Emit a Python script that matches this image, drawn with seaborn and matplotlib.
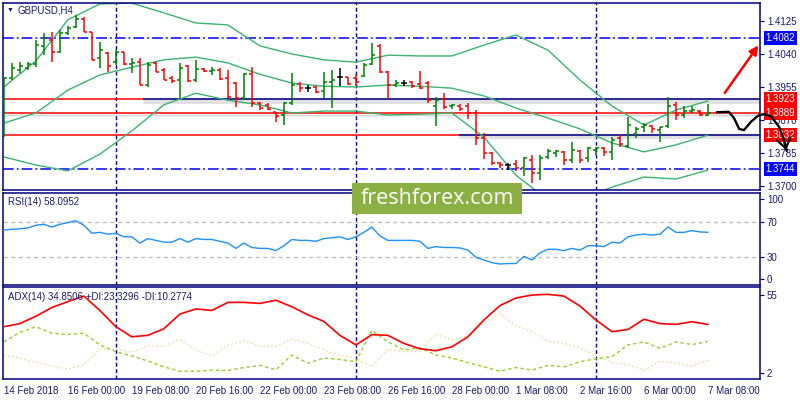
import numpy as np
import pandas as pd
import seaborn as sns
import matplotlib.pyplot as plt
from matplotlib.patches import Rectangle
from matplotlib.transforms import blended_transform_factory

sns.set_style('white')
plt.rcParams['font.family'] = ['Liberation Sans', 'DejaVu Sans']

NAVY = '#000080'
TXT = '#1b1b6e'

# GBPUSD H4, 14 Feb 2018 16:00 .. 7 Mar 2018 08:00 (89 bars)
opens = [1.3844, 1.3978, 1.3999, 1.4004, 1.4014, 1.4061, 1.4076, 1.4045, 1.4094, 1.4110,
         1.4130, 1.4097, 1.4030, 1.4043, 1.4019, 1.4045, 1.4014, 1.4019, 1.3960, 1.4017,
         1.3999, 1.3978, 1.3973, 1.4009, 1.3973, 1.4001, 1.3996, 1.3999, 1.3978, 1.3965,
         1.3927, 1.3988, 1.3914, 1.3909, 1.3891, 1.3883, 1.3914, 1.3963, 1.3952, 1.3955,
         1.3945, 1.3968, 1.3981, 1.3981, 1.3978, 1.3983, 1.4014, 1.4061, 1.3994, 1.3960,
         1.3965, 1.3968, 1.3963, 1.3965, 1.3906, 1.3924, 1.3906, 1.3906, 1.3906, 1.3888,
         1.3824, 1.3785, 1.3759, 1.3754, 1.3757, 1.3746, 1.3767, 1.3733, 1.3775, 1.3785,
         1.3788, 1.3767, 1.3790, 1.3772, 1.3793, 1.3798, 1.3788, 1.3824, 1.3803, 1.3834,
         1.3852, 1.3855, 1.3844, 1.3855, 1.3909, 1.3883, 1.3893, 1.3893, 1.3883]
highs = [1.3981, 1.4017, 1.4019, 1.4019, 1.4076, 1.4094, 1.4097, 1.4102, 1.4112, 1.4140,
         1.4135, 1.4097, 1.4071, 1.4045, 1.4050, 1.4045, 1.4030, 1.4030, 1.4019, 1.4019,
         1.4004, 1.3983, 1.4017, 1.4012, 1.4025, 1.4004, 1.4006, 1.4004, 1.3999, 1.3968,
         1.3991, 1.4006, 1.3916, 1.3914, 1.3891, 1.3916, 1.3991, 1.3968, 1.3960, 1.3957,
         1.3994, 1.3999, 1.4004, 1.3981, 1.3988, 1.4017, 1.4068, 1.4066, 1.3996, 1.3973,
         1.3973, 1.3970, 1.3996, 1.3970, 1.3929, 1.3939, 1.3911, 1.3911, 1.3914, 1.3896,
         1.3836, 1.3788, 1.3762, 1.3759, 1.3767, 1.3775, 1.3780, 1.3780, 1.3795, 1.3793,
         1.3790, 1.3813, 1.3793, 1.3800, 1.3800, 1.3800, 1.3826, 1.3831, 1.3878, 1.3852,
         1.3862, 1.3857, 1.3852, 1.3929, 1.3916, 1.3906, 1.3906, 1.3896, 1.3911]
lows = [1.3826, 1.3973, 1.3991, 1.3999, 1.4006, 1.4037, 1.4019, 1.4043, 1.4089, 1.4107,
        1.4097, 1.4025, 1.4004, 1.3994, 1.4012, 1.4012, 1.3991, 1.3960, 1.3955, 1.3994,
        1.3973, 1.3965, 1.3927, 1.3968, 1.3968, 1.3994, 1.3986, 1.3973, 1.3927, 1.3903,
        1.3921, 1.3903, 1.3896, 1.3896, 1.3865, 1.3857, 1.3909, 1.3942, 1.3942, 1.3939,
        1.3927, 1.3901, 1.3957, 1.3960, 1.3957, 1.3981, 1.4012, 1.3991, 1.3924, 1.3955,
        1.3957, 1.3952, 1.3950, 1.3914, 1.3855, 1.3898, 1.3898, 1.3893, 1.3873, 1.3806,
        1.3770, 1.3754, 1.3746, 1.3741, 1.3739, 1.3726, 1.3708, 1.3715, 1.3770, 1.3775,
        1.3754, 1.3759, 1.3759, 1.3762, 1.3780, 1.3777, 1.3767, 1.3800, 1.3798, 1.3824,
        1.3839, 1.3836, 1.3813, 1.3849, 1.3870, 1.3875, 1.3888, 1.3880, 1.3880]
closes = [1.3978, 1.4004, 1.4009, 1.4014, 1.4063, 1.4081, 1.4045, 1.4094, 1.4107, 1.4130,
          1.4097, 1.4025, 1.4050, 1.4009, 1.4045, 1.4014, 1.4017, 1.3960, 1.4012, 1.3994,
          1.3973, 1.3970, 1.4004, 1.3970, 1.4001, 1.3996, 1.3999, 1.3976, 1.3929, 1.3927,
          1.3988, 1.3914, 1.3901, 1.3898, 1.3880, 1.3914, 1.3960, 1.3952, 1.3952, 1.3942,
          1.3968, 1.3973, 1.3981, 1.3963, 1.3968, 1.4012, 1.4037, 1.3994, 1.3960, 1.3965,
          1.3965, 1.3957, 1.3952, 1.3921, 1.3921, 1.3903, 1.3909, 1.3898, 1.3888, 1.3824,
          1.3785, 1.3759, 1.3754, 1.3754, 1.3746, 1.3772, 1.3733, 1.3772, 1.3790, 1.3790,
          1.3767, 1.3793, 1.3767, 1.3798, 1.3798, 1.3788, 1.3818, 1.3808, 1.3857, 1.3847,
          1.3857, 1.3847, 1.3852, 1.3906, 1.3883, 1.3893, 1.3896, 1.3883, 1.3889]

# Bollinger bands read every 4 bars
bb_index = list(range(0, 89, 4))
bb_upper = [1.3955, 1.4022, 1.4128, 1.4169, 1.4171, 1.4146, 1.4120, 1.4115, 1.4061, 1.4040, 1.4025, 1.4019,
            1.4037, 1.4035, 1.4035, 1.4063, 1.4089, 1.4050, 1.3973, 1.3906, 1.3857, 1.3896, 1.3919]
bb_mid = [1.3862, 1.3888, 1.3947, 1.3986, 1.4006, 1.4025, 1.4032, 1.4017, 1.3988, 1.3965, 1.3957, 1.3955,
          1.3960, 1.3957, 1.3952, 1.3932, 1.3901, 1.3875, 1.3847, 1.3811, 1.3788, 1.3806, 1.3831]
bb_lower = [1.3775, 1.3754, 1.3739, 1.3782, 1.3842, 1.3909, 1.3939, 1.3921, 1.3909, 1.3888, 1.3893, 1.3893,
            1.3883, 1.3885, 1.3888, 1.3826, 1.3728, 1.3664, 1.3664, 1.3697, 1.3723, 1.3718, 1.3741]

rsi = [60.7, 61.5, 62, 63, 66, 67, 64, 67, 69, 71, 66, 57, 58, 56, 57, 53, 53, 46, 51, 49,
       47, 47, 51, 47, 51, 50, 50, 48, 46, 40, 46, 41, 40, 40, 37.5, 43, 50, 49, 49, 48,
       51, 52, 53, 50, 53, 58, 64, 54, 49, 49, 49, 49, 48, 40, 42, 41, 41, 40.5, 38, 30,
       27, 24, 22.5, 23, 23, 31, 27, 35, 39, 39, 37.5, 40, 38, 43, 43, 42, 47, 46, 53, 55,
       56, 55, 56, 64, 58, 58, 60, 58.5, 58.1]

# ADX / DI read every 2 bars
adx_index = list(range(0, 89, 2))
adx = [33.4, 35.5, 40.5, 46.5, 50.5, 54.3, 44.5, 33.4, 26.5, 27.5, 32, 42, 45.5, 44.5, 50,
       50, 49.3, 51.5, 47, 41.5, 37, 27.5, 21, 28, 27.5, 22, 18.3, 17, 19.7, 26.5,
       38, 47.8, 53, 55, 55.5, 54.3, 47.5, 38, 30, 31.5, 38.5, 35.5, 35, 36.8, 34.9]
plus_di = [23, 29.5, 33.4, 29, 28, 29, 21, 16.3, 13.5, 10, 6, 3, 3, 3.8, 3.5,
           5.5, 7, 4, 14, 8.5, 12, 11, 9.5, 31, 23, 17.5, 19, 14.1, 12, 9,
           6, 3, 5.5, 3.8, 7, 6, 9.5, 11.5, 13, 21, 23, 18.6, 23, 21.2, 23.3]
minus_di = [14.1, 12, 9, 6.5, 4.5, 7.5, 18, 18, 16, 20.5, 20, 24.7, 17.5, 13.6, 20.5,
            24, 20, 20, 25, 22, 17.5, 14, 11.8, 6, 18, 16.3, 16.5, 28.4, 24.3, 27.2,
            36, 42.5, 34, 30, 23.5, 22, 19, 13.5, 9, 7.5, 3.5, 10, 8.5, 6.5, 10.3]

tick_bars = list(range(0, 89, 8))
tick_labels = ['14 Feb 2018', '16 Feb 00:00', '19 Feb 08:00', '20 Feb 16:00', '22 Feb 00:00',
               '23 Feb 08:00', '26 Feb 16:00', '28 Feb 00:00', '1 Mar 08:00', '2 Mar 16:00',
               '6 Mar 00:00', '7 Mar 08:00']
week_starts = [14, 44, 74]

red_levels = [1.3923, 1.3889, 1.3832]
blue_levels = [1.4082, 1.3744]
channel = [(1.3923, 17.4), (1.3832, 56.9)]   # level, first bar
price_ticks = [1.3700, 1.3785, 1.3870, 1.3955, 1.4040, 1.4125]

# hand-drawn scenario on the right (bar, price)
up_arrow = [(89.9, 1.3934), (94.5, 1.4068)]
path_bar = [89.1, 90.6, 91.25, 91.9, 92.5, 93.4, 94.25, 95.0, 95.9, 96.9, 97.5, 97.85]
path_price = [1.3890, 1.3891, 1.3875, 1.3847, 1.3844, 1.3866, 1.3881, 1.3885, 1.3879, 1.3852, 1.3818, 1.3790]

df = pd.DataFrame({'o': opens, 'h': highs, 'l': lows, 'c': closes})
df['bar'] = np.arange(len(df))
df['col'] = np.where(df.c > df.o, '#008000', np.where(df.c < df.o, '#ff0000', '#000000'))

fig = plt.figure(figsize=(8, 4), dpi=100)
W, H = 800, 400
def rect(top, bottom):
    return [3 / W, 1 - bottom / H, 757 / W, (bottom - top) / H]

ax = fig.add_axes(rect(3, 190))
ax_rsi = fig.add_axes(rect(193, 285))
ax_adx = fig.add_axes(rect(287, 379))

XL = (-0.1, 94.5)
for a in (ax, ax_rsi, ax_adx):
    a.set_xlim(*XL)
    for s in a.spines.values():
        s.set_color(NAVY)
        s.set_linewidth(1.1)
    a.yaxis.tick_right()
    a.tick_params(axis='y', colors=NAVY, labelcolor=TXT, labelsize=7, length=3, pad=2)
    a.tick_params(axis='x', colors=NAVY, labelcolor=TXT, labelsize=7, length=3, pad=2)
    for wb in week_starts:
        a.axvline(wb, color=NAVY, lw=1, ls=(0, (2.8, 1.8)), zorder=1)

# ---- main price panel ----
ax.set_ylim(1.36897, 1.41714)
ax.set_yticks(price_ticks)
ax.set_yticklabels([f'{p:.4f}' for p in price_ticks])
ax.set_xticks([])

for lv in blue_levels:
    ax.axhline(lv, color='#0000ff', lw=1.1, ls=(0, (7, 2, 1.2, 2)), zorder=1)
ax.axhline(red_levels[1] - 0.0005, color='#d4d4d4', lw=1, zorder=0.9)
for lv in red_levels:
    ax.axhline(lv, color='#ff0000', lw=1.1, zorder=1)
for lv, b0 in channel:
    ax.hlines(lv - 0.0004, b0, XL[1], color='#9a9a9a', lw=3.5, alpha=0.3, zorder=1)
    ax.hlines(lv, b0, XL[1], color='#2b2b9a', lw=1.4, zorder=1.5)

for band in (bb_upper, bb_mid, bb_lower):
    sns.lineplot(x=bb_index, y=band, ax=ax, color='#3cb371', lw=1, zorder=2)

ax.vlines(df.bar, df.l, df.h, colors=df.col, lw=1.1, zorder=3)
ax.hlines(df.o, df.bar - 0.4, df.bar, colors=df.col, lw=1.1, zorder=3)
ax.hlines(df.c, df.bar, df.bar + 0.4, colors=df.col, lw=1.1, zorder=3)

ax.text(0.005, 0.962, '\u25bc', transform=ax.transAxes, fontsize=5, color=TXT, va='center')
ax.text(0.0198, 0.962, 'GBPUSD,H4', transform=ax.transAxes, fontsize=7, color=TXT, va='center')

tr = blended_transform_factory(ax.transAxes, ax.transData)
for lv, fc in [(1.4082, '#0000ff'), (1.3923, '#ff0000'), (1.3889, '#ff0000'),
               (1.3832, '#ff0000'), (1.3744, '#0000ff')]:
    ax.text(1.0075, lv, f'{lv:.4f}', transform=tr, fontsize=7, color='white', va='center',
            ha='left', clip_on=False, zorder=6,
            bbox=dict(boxstyle='square,pad=0.2', fc=fc, ec='none'))

ax.annotate('', xy=up_arrow[1], xytext=up_arrow[0], annotation_clip=False, zorder=7,
            arrowprops=dict(arrowstyle='-|>', color='#ff0000', lw=1.8, mutation_scale=13))
ax.plot(path_bar, path_price, color='black', lw=1.7, clip_on=False, zorder=8,
        solid_capstyle='round', solid_joinstyle='round')
ax.annotate('', xy=(path_bar[-1], path_price[-1] - 0.0005), xytext=(path_bar[-2], path_price[-2]),
            annotation_clip=False, zorder=8,
            arrowprops=dict(arrowstyle='->,head_length=0.5,head_width=0.35', color='black',
                            lw=1.6, mutation_scale=14))

# ---- RSI panel ----
ax_rsi.set_ylim(-1.1, 102.2)
for lv in (70, 30):
    ax_rsi.axhline(lv, color='#c0c0c0', lw=1, ls=(0, (3, 2.5)), zorder=1)
sns.lineplot(x=np.arange(len(rsi)), y=rsi, ax=ax_rsi, color='#1e90ff', lw=1, zorder=3)
ax_rsi.set_yticks([5.6, 30, 70, 95.5])
ax_rsi.set_yticklabels(['0', '30', '70', '100'])
ax_rsi.set_xticks([])
ax_rsi.text(0.0066, 0.90, 'RSI(14) 58.0952', transform=ax_rsi.transAxes, fontsize=7,
            color=TXT, va='center')

# ---- ADX panel ----
ax_adx.set_ylim(-2.3, 60.5)
sns.lineplot(x=adx_index, y=minus_di, ax=ax_adx, color='#f5deb3', lw=1, ls=(0, (1.5, 1.5)), zorder=2)
sns.lineplot(x=adx_index, y=plus_di, ax=ax_adx, color='#9acd32', lw=1, ls=(0, (2.5, 2)), zorder=2)
sns.lineplot(x=adx_index, y=adx, ax=ax_adx, color='#ff0000', lw=1.2, zorder=3)
ax_adx.set_yticks([2, 55])
ax_adx.set_yticklabels(['2', '55'])
ax_adx.set_xticks(tick_bars)
ax_adx.set_xticklabels(tick_labels, ha='left')
ax_adx.text(0.0066, 0.89, 'ADX(14) 34.8506 +DI:23.3296 -DI:10.2774', transform=ax_adx.transAxes,
            fontsize=7, color=TXT, va='center')

for a in (ax, ax_rsi, ax_adx):
    a.set_xlabel('')
    a.set_ylabel('')

# watermark
fig.patches.append(Rectangle((352 / W, 1 - 214 / H), 170 / W, 31 / H, transform=fig.transFigure,
                             fc='#8cb043', ec='none', zorder=10))
fig.text(437 / W, 1 - 198.5 / H, 'freshforex.com', fontsize=15.5, color='white',
         family=['Open Sans', 'DejaVu Sans'], ha='center', va='center', zorder=11)

fig.savefig('out.png', dpi=100)
